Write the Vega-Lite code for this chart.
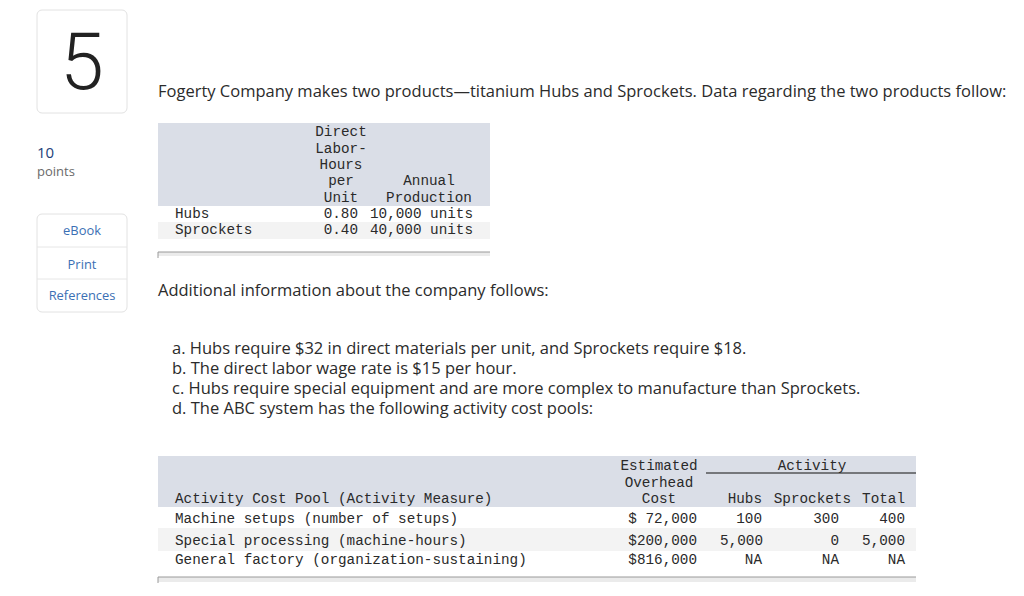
{
  "$schema": "https://vega.github.io/schema/vega-lite/v6.json",
  "width": 1024,
  "height": 596,
  "autosize": {"type": "fit", "contains": "padding"},
  "padding": 0,
  "background": "#ffffff",
  "config": {"view": {"stroke": null}},
  "resolve": {"scale": {"color": "independent"}},
  "datasets": {
    "fills": [
      {"kind": "header", "x": 158, "x2": 490, "y": 123, "y2": 206},
      {"kind": "stripe", "x": 158, "x2": 490, "y": 222, "y2": 239},
      {"kind": "scroll", "x": 158, "x2": 490, "y": 252, "y2": 256},
      {"kind": "header", "x": 158, "x2": 916, "y": 456, "y2": 507},
      {"kind": "stripe", "x": 158, "x2": 916, "y": 528, "y2": 551},
      {"kind": "scroll", "x": 158, "x2": 916, "y": 577, "y2": 582}
    ],
    "boxes": [
      {"name": "number", "x": 37, "x2": 127, "y": 10, "y2": 113},
      {"name": "buttons", "x": 37, "x2": 127, "y": 214, "y2": 312}
    ],
    "dividers": [
      {"x": 37, "x2": 127, "y": 247, "y2": 247},
      {"x": 37, "x2": 127, "y": 279, "y2": 279}
    ],
    "scrollLines": [
      {"x": 158, "x2": 490, "y": 252, "y2": 252},
      {"x": 158, "x2": 158, "y": 252, "y2": 258},
      {"x": 158, "x2": 916, "y": 577, "y2": 577},
      {"x": 158, "x2": 158, "y": 577, "y2": 583}
    ],
    "underline": [
      {"x": 706, "x2": 916, "y": 473, "y2": 473}
    ],
    "bigNumber": [{"text": "5", "x": 82, "y": 89}],
    "points": [{"text": "10", "x": 37, "y": 158}],
    "pointsLabel": [{"text": "points", "x": 37, "y": 176}],
    "buttons": [
      {"text": "eBook", "x": 82, "y": 235},
      {"text": "Print", "x": 82, "y": 269},
      {"text": "References", "x": 82, "y": 300}
    ],
    "body": [
      {"text": "Fogerty Company makes two products—titanium Hubs and Sprockets. Data regarding the two products follow:", "x": 158, "y": 97},
      {"text": "Additional information about the company follows:", "x": 158, "y": 296},
      {"text": "a. Hubs require $32 in direct materials per unit, and Sprockets require $18.", "x": 172, "y": 354},
      {"text": "b. The direct labor wage rate is $15 per hour.", "x": 172, "y": 374},
      {"text": "c. Hubs require special equipment and are more complex to manufacture than Sprockets.", "x": 172, "y": 394},
      {"text": "d. The ABC system has the following activity cost pools:", "x": 172, "y": 414}
    ],
    "monoLeft": [
      {"text": "Hubs", "x": 175, "y": 218},
      {"text": "Sprockets", "x": 175, "y": 234},
      {"text": "Activity Cost Pool (Activity Measure)", "x": 175, "y": 503},
      {"text": "Machine setups (number of setups)", "x": 175, "y": 523},
      {"text": "Special processing (machine-hours)", "x": 175, "y": 545},
      {"text": "General factory (organization-sustaining)", "x": 175, "y": 564}
    ],
    "monoCenter": [
      {"text": "Direct", "x": 341, "y": 136},
      {"text": "Labor-", "x": 341, "y": 153},
      {"text": "Hours", "x": 341, "y": 169},
      {"text": "per", "x": 341, "y": 185},
      {"text": "Unit", "x": 341, "y": 202},
      {"text": "Annual", "x": 429, "y": 185},
      {"text": "Production", "x": 429, "y": 202},
      {"text": "Estimated", "x": 659, "y": 470},
      {"text": "Overhead", "x": 659, "y": 487},
      {"text": "Cost", "x": 659, "y": 503},
      {"text": "Activity", "x": 812, "y": 470}
    ],
    "monoRight": [
      {"text": "0.80", "x": 358, "y": 218},
      {"text": "0.40", "x": 358, "y": 234},
      {"text": "10,000 units", "x": 473, "y": 218},
      {"text": "40,000 units", "x": 473, "y": 234},
      {"text": "Hubs", "x": 762, "y": 503},
      {"text": "Sprockets", "x": 851, "y": 503},
      {"text": "Total", "x": 905, "y": 503},
      {"text": "$ 72,000", "x": 697, "y": 523},
      {"text": "100", "x": 762, "y": 523},
      {"text": "300", "x": 839, "y": 523},
      {"text": "400", "x": 905, "y": 523},
      {"text": "$200,000", "x": 697, "y": 545},
      {"text": "5,000", "x": 763, "y": 545},
      {"text": "0", "x": 839, "y": 545},
      {"text": "5,000", "x": 905, "y": 545},
      {"text": "$816,000", "x": 697, "y": 564},
      {"text": "NA", "x": 762, "y": 564},
      {"text": "NA", "x": 839, "y": 564},
      {"text": "NA", "x": 905, "y": 564}
    ]
  },
  "encoding": {
    "x": {"field": "x", "type": "quantitative", "scale": {"domain": [0, 1024], "nice": false, "zero": false}, "axis": null},
    "y": {"field": "y", "type": "quantitative", "scale": {"domain": [0, 596], "nice": false, "zero": false, "reverse": true}, "axis": null}
  },
  "layer": [
    {
      "data": {"name": "fills"},
      "mark": {"type": "rect", "strokeWidth": 0},
      "encoding": {
        "x2": {"field": "x2"},
        "y2": {"field": "y2"},
        "color": {"field": "kind", "type": "nominal", "legend": null,
          "scale": {"domain": ["header", "stripe", "scroll"], "range": ["#dadee7", "#f3f3f3", "#ebebeb"]}}
      }
    },
    {
      "data": {"name": "boxes"},
      "mark": {"type": "rect", "fill": "#ffffff", "stroke": "#e2e2e2", "strokeWidth": 1, "cornerRadius": 5},
      "encoding": {"x2": {"field": "x2"}, "y2": {"field": "y2"}}
    },
    {
      "data": {"name": "dividers"},
      "mark": {"type": "rule", "strokeWidth": 1, "color": "#e6e6e6"},
      "encoding": {"x2": {"field": "x2"}, "y2": {"field": "y2"}}
    },
    {
      "data": {"name": "scrollLines"},
      "mark": {"type": "rule", "strokeWidth": 1, "color": "#9a9a9a"},
      "encoding": {"x2": {"field": "x2"}, "y2": {"field": "y2"}}
    },
    {
      "data": {"name": "underline"},
      "mark": {"type": "rule", "strokeWidth": 1.2, "color": "#111111"},
      "encoding": {"x2": {"field": "x2"}, "y2": {"field": "y2"}}
    },
    {
      "data": {"name": "bigNumber"},
      "mark": {"type": "text", "font": "Roboto", "fontWeight": 300, "fontSize": 79, "align": "center", "baseline": "alphabetic", "color": "#222222"},
      "encoding": {"text": {"field": "text"}}
    },
    {
      "data": {"name": "points"},
      "mark": {"type": "text", "font": "Open Sans", "fontSize": 15, "align": "left", "baseline": "alphabetic", "color": "#1d4279"},
      "encoding": {"text": {"field": "text"}}
    },
    {
      "data": {"name": "pointsLabel"},
      "mark": {"type": "text", "font": "Open Sans", "fontSize": 13, "align": "left", "baseline": "alphabetic", "color": "#6a6a6a"},
      "encoding": {"text": {"field": "text"}}
    },
    {
      "data": {"name": "buttons"},
      "mark": {"type": "text", "font": "Open Sans", "fontSize": 12.9, "align": "center", "baseline": "alphabetic", "color": "#3b6fb4"},
      "encoding": {"text": {"field": "text"}}
    },
    {
      "data": {"name": "body"},
      "mark": {"type": "text", "font": "Open Sans", "fontSize": 16.5, "align": "left", "baseline": "alphabetic", "color": "#2b2b2b"},
      "encoding": {"text": {"field": "text"}}
    },
    {
      "data": {"name": "monoLeft"},
      "mark": {"type": "text", "font": "Liberation Mono", "fontSize": 14.3, "align": "left", "baseline": "alphabetic", "color": "#2a2a2a"},
      "encoding": {"text": {"field": "text"}}
    },
    {
      "data": {"name": "monoCenter"},
      "mark": {"type": "text", "font": "Liberation Mono", "fontSize": 14.3, "align": "center", "baseline": "alphabetic", "color": "#2a2a2a"},
      "encoding": {"text": {"field": "text"}}
    },
    {
      "data": {"name": "monoRight"},
      "mark": {"type": "text", "font": "Liberation Mono", "fontSize": 14.3, "align": "right", "baseline": "alphabetic", "color": "#2a2a2a"},
      "encoding": {"text": {"field": "text"}}
    }
  ]
}
